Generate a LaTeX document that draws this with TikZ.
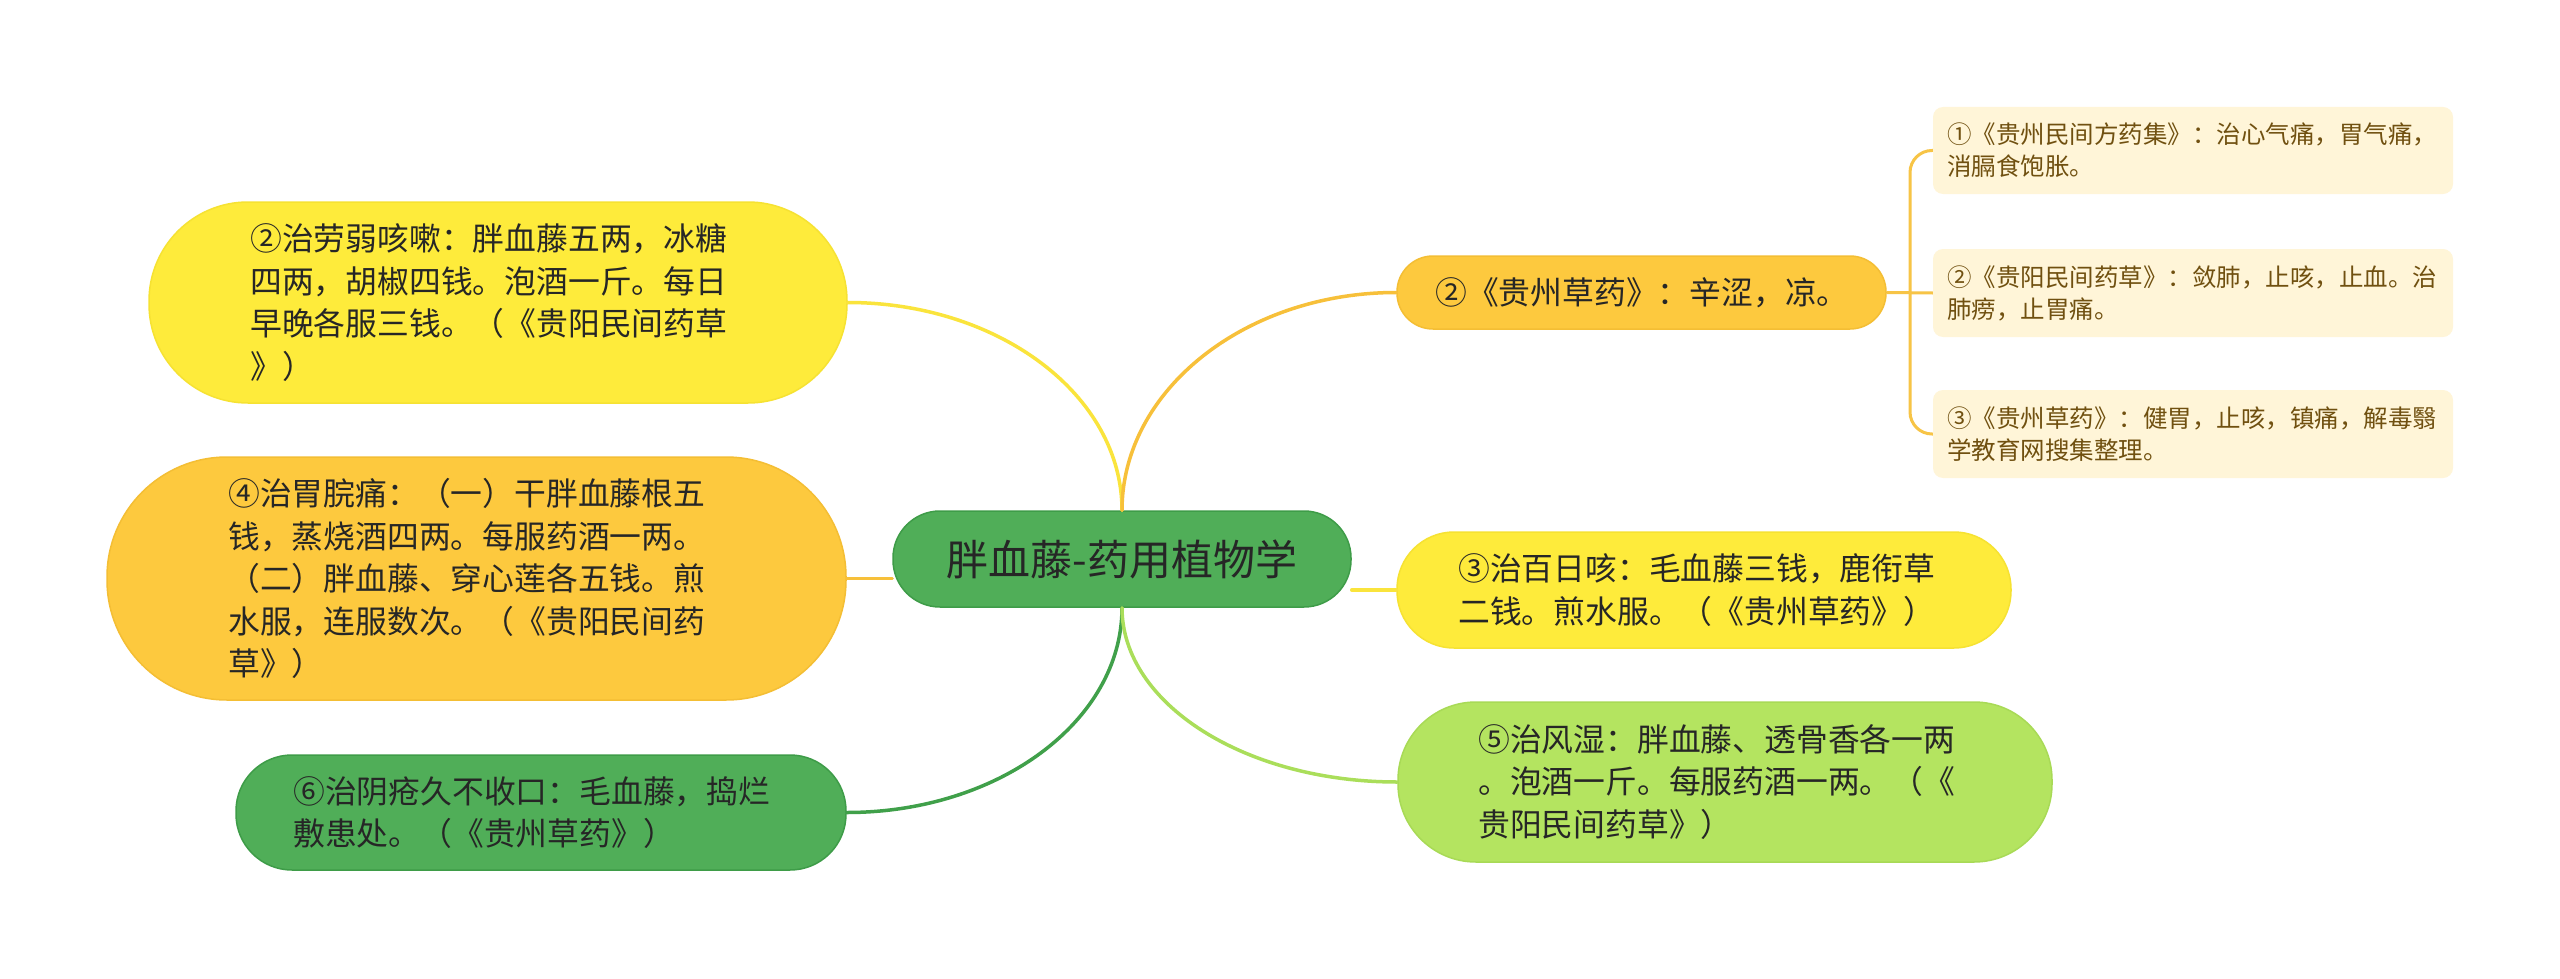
\documentclass[tikz,border=0pt]{standalone}
\usepackage{fontspec}
\newfontfamily\cjk{Noto Sans CJK SC}
\usetikzlibrary{calc}
\definecolor{cYel}{RGB}{254,235,59}
\definecolor{cYelD}{RGB}{246,226,50}
\definecolor{cOra}{RGB}{253,201,62}
\definecolor{cOraD}{RGB}{244,190,52}
\definecolor{cGrn}{RGB}{80,174,88}
\definecolor{cGrnD}{RGB}{62,156,72}
\definecolor{cLGr}{RGB}{180,228,96}
\definecolor{cLGrD}{RGB}{168,218,86}
\definecolor{cLeaf}{RGB}{255,245,216}
\definecolor{cLeafText}{RGB}{112,80,16}
\definecolor{cText}{RGB}{38,38,38}
\definecolor{lYel}{RGB}{250,228,60}
\definecolor{lOra}{RGB}{247,192,58}
\definecolor{lGrn}{RGB}{64,160,74}
\definecolor{lLGr}{RGB}{170,222,90}
\definecolor{lLeaf}{RGB}{247,196,70}
\begin{document}
\begin{tikzpicture}[x=1pt,y=-1pt,
  box/.style={rectangle, inner sep=0pt, line width=1.5pt},
  leafbox/.style={rectangle, inner sep=0pt, fill=cLeaf, draw=none, rounded corners=10pt, minimum width=520pt},
  txt/.style={inner sep=0pt, anchor=west, align=left, text=cText, font=\cjk\fontsize{31.8}{42.5}\selectfont},
  leaftxt/.style={inner sep=0pt, anchor=west, align=left, text=cLeafText, font=\cjk\fontsize{24.5}{32}\selectfont},
  conn/.style={line width=3.5pt, line cap=round},
]
\useasboundingbox[fill=white] (0,0) rectangle (2560,979);

% connectors (drawn first)
\coordinate (cN) at (1122,511);
\coordinate (cS) at (1122,607);

% main nodes
\node[box, fill=cGrn, draw=cGrnD, minimum width=458pt, minimum height=96pt, rounded corners=47pt,
      text=cText, font=\cjk\fontsize{42}{50}\selectfont] (c) at (1122,559) {胖血藤-药用植物学};

\node[box, fill=cYel, draw=cYelD, minimum width=698pt, minimum height=201pt, rounded corners=99pt] (L1) at (498,302.5) {};
\node[box, fill=cOra, draw=cOraD, minimum width=739pt, minimum height=243pt, rounded corners=120pt] (L2) at (476.5,578.5) {};
\node[box, fill=cGrn, draw=cGrnD, minimum width=610pt, minimum height=115pt, rounded corners=56pt] (L3) at (541,812.5) {};
\node[box, fill=cOra, draw=cOraD, minimum width=489pt, minimum height=73pt, rounded corners=36pt] (R1) at (1641.5,292.5) {};
\node[box, fill=cYel, draw=cYelD, minimum width=614pt, minimum height=116pt, rounded corners=57pt] (R2) at (1704,590) {};
\node[box, fill=cLGr, draw=cLGrD, minimum width=654pt, minimum height=160pt, rounded corners=78pt] (R3) at (1725,782) {};

\node[leafbox, minimum height=87pt] (F1) at (2193,150.5) {};
\node[leafbox, minimum height=88pt] (F2) at (2193,293) {};
\node[leafbox, minimum height=88pt] (F3) at (2193,434) {};

% connectors
\draw[conn, lYel] (c.north) .. controls ($(c.north)+(0,-115)$) and ($(L1.east)+(151,0)$) .. (L1.east);
\draw[conn, lOra] (c.north) .. controls ($(c.north)+(0,-120)$) and ($(R1.west)+(-151,0)$) .. (R1.west);
\draw[conn, lGrn] (c.south) .. controls ($(c.south)+(0,113)$) and ($(L3.east)+(152,0)$) .. (L3.east);
\draw[conn, lLGr] (c.south) .. controls ($(c.south)+(0,96)$) and ($(R3.west)+(-152,0)$) .. (R3.west);
\draw[conn, lOra] (c.west |- L2.east) -- (L2.east);
\draw[conn, lYel] (c.east |- R2.west) -- (R2.west);

\coordinate (j) at (1910,292.5);
\draw[line width=3pt, lLeaf] (R1.east) -- (F2.west);
\draw[line width=3pt, lLeaf, rounded corners=22pt] (F1.west) -| (j) |- (F3.west);

% texts
\node[txt] (L1t) at (250,302.5) {②治劳弱咳嗽：胖血藤五两，冰糖\\四两，胡椒四钱。泡酒一斤。每日\\早晚各服三钱。（《贵阳民间药草\\》）};
\node[txt] (L2t) at (228,578.5) {④治胃脘痛：（一）干胖血藤根五\\钱，蒸烧酒四两。每服药酒一两。\\（二）胖血藤、穿心莲各五钱。煎\\水服，连服数次。（《贵阳民间药\\草》）};
\node[txt] (L3t) at (293,812.5) {⑥治阴疮久不收口：毛血藤，捣烂\\敷患处。（《贵州草药》）};
\node[txt] (R1t) at (1435,292.5) {②《贵州草药》：辛涩，凉。};
\node[txt] (R2t) at (1458,590) {③治百日咳：毛血藤三钱，鹿衔草\\二钱。煎水服。（《贵州草药》）};
\node[txt] (R3t) at (1478,782) {⑤治风湿：胖血藤、透骨香各一两\\。泡酒一斤。每服药酒一两。（《\\贵阳民间药草》）};

\node[leaftxt] (F1t) at (1947,150.5) {①《贵州民间方药集》：治心气痛，胃气痛，\\消膈食饱胀。};
\node[leaftxt] (F2t) at (1947,293) {②《贵阳民间药草》：敛肺，止咳，止血。治\\肺痨，止胃痛。};
\node[leaftxt] (F3t) at (1947,434) {③《贵州草药》：健胃，止咳，镇痛，解毒翳\\学教育网搜集整理。};
\end{tikzpicture}
\end{document}
